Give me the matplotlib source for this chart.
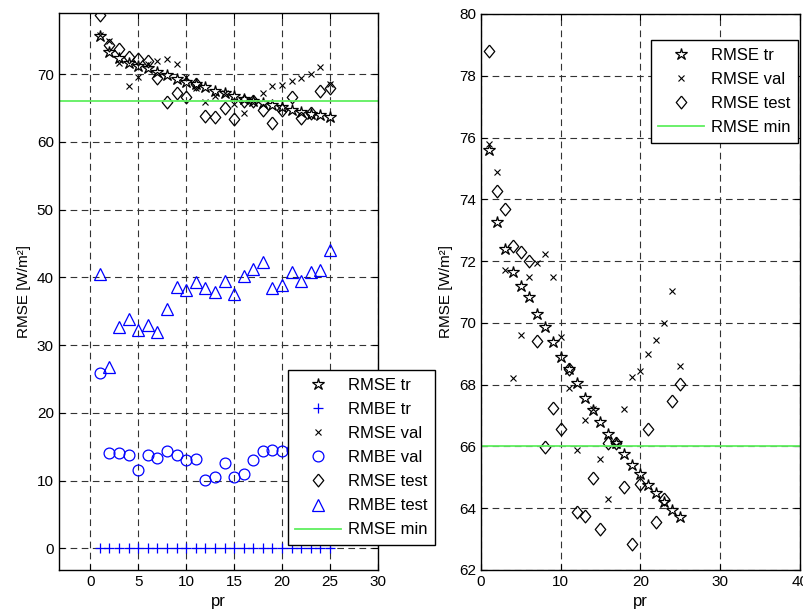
import matplotlib
matplotlib.use("Agg")
import matplotlib.pyplot as plt
import numpy as np

plt.rcParams['font.family'] = ['Liberation Sans', 'DejaVu Sans']

pr = np.arange(1, 26)

rmse_tr = [75.6, 73.25, 72.4, 71.65, 71.2, 70.85, 70.3, 69.86, 69.37, 68.9,
           68.5, 68.05, 67.56, 67.18, 66.8, 66.4, 66.1, 65.76, 65.4, 65.1,
           64.76, 64.5, 64.2, 63.95, 63.7]
rmse_val = [75.8, 74.9, 71.7, 68.23, 69.6, 71.5, 71.93, 72.23, 71.5, 69.53,
            67.9, 65.9, 66.86, 67.2, 65.6, 64.3, 66.05, 67.2, 68.26, 68.45,
            69.0, 69.44, 69.98, 71.03, 68.6]
rmse_test = [78.8, 74.28, 73.68, 72.5, 72.28, 72.0, 69.4, 65.97, 67.26, 66.57,
             68.5, 63.87, 63.76, 64.99, 63.33, 66.1, 66.1, 64.68, 62.83, 64.78,
             66.57, 63.56, 64.3, 67.48, 68.03]
rmbe_tr = [0.0] * 25
rmbe_val = [25.85, 14.14, 14.1, 13.8, 11.6, 13.8, 13.4, 14.4, 13.8, 13.0,
            13.2, 10.1, 10.6, 12.6, 10.5, 10.9, 13.0, 14.4, 14.5, 14.4,
            14.5, 14.3, 14.6, 14.4, 14.5]
rmbe_test = [40.5, 26.8, 32.7, 33.9, 32.3, 33.0, 32.0, 35.4, 38.6, 38.2,
             39.3, 38.4, 37.9, 39.5, 37.5, 40.2, 41.3, 42.3, 38.5, 38.9,
             40.8, 39.4, 40.8, 41.1, 44.0]
rmse_min = 66.0

green = '#5fef5f'
blue = '#0000ff'
fs = 11
diamond = [(0, 1), (0.82, 0), (0, -1), (-0.82, 0), (0, 1)]


def style_axes(ax):
    ax.grid(True, color='0.2', linestyle=(0, (6, 4)), linewidth=0.8)
    ax.set_axisbelow(True)
    ax.tick_params(direction='in', top=True, right=True, length=4,
                   labelsize=fs, width=0.8)
    for s in ax.spines.values():
        s.set_linewidth(1.0)


def legend_at(ax, x, y, loc):
    leg = ax.legend(loc=loc, bbox_to_anchor=(x, y), bbox_transform=fig.transFigure,
                    borderaxespad=0, fontsize=12, frameon=True, framealpha=1,
                    fancybox=False, edgecolor='k', borderpad=0.45,
                    labelspacing=0.55, handlelength=2.75, handletextpad=0.4)
    leg.get_frame().set_linewidth(1.0)
    leg.set_zorder(10)
    return leg


fig = plt.figure(figsize=(8.04, 6.16), dpi=100)

# left panel
ax1 = fig.add_axes([0.073, 0.0747, 0.397, 0.9037])
ax1.plot(pr, rmse_tr, '*', mfc='none', mec='k', ms=9, mew=0.9, label='RMSE tr')
ax1.plot(pr, rmbe_tr, '+', color=blue, ms=7.5, mew=0.9, label='RMBE tr')
ax1.plot(pr, rmse_val, 'x', color='k', ms=3.8, mew=0.8, label='RMSE val')
ax1.plot(pr, rmbe_val, 'o', mfc='none', mec=blue, ms=7.8, mew=0.9, label='RMBE val')
ax1.plot(pr, rmse_test, marker=diamond, ls='none', mfc='none', mec='k', ms=9.2,
         mew=0.9, label='RMSE test')
ax1.plot(pr, rmbe_test, '^', mfc='none', mec=blue, ms=8.3, mew=0.9, label='RMBE test')
ax1.axhline(rmse_min, color=green, lw=1.3, label='RMSE min')
ax1.set_xlim(-3.3, 30)
ax1.set_ylim(-3.2, 79)
ax1.set_xticks(range(0, 31, 5))
ax1.set_yticks(range(0, 71, 10))
ax1.set_xlabel('pr', fontsize=12)
ax1.set_ylabel('RMSE [W/m²]', fontsize=11)
style_axes(ax1)
legend_at(ax1, 288 / 804, 1 - 370 / 616, 'upper left')

# right panel
ax2 = fig.add_axes([0.598, 0.0747, 0.397, 0.9026])
ax2.plot(pr, rmse_tr, '*', mfc='none', mec='k', ms=9, mew=0.9, label='RMSE tr')
ax2.plot(pr, rmse_val, 'x', color='k', ms=3.8, mew=0.8, label='RMSE val')
ax2.plot(pr, rmse_test, marker=diamond, ls='none', mfc='none', mec='k', ms=9.2,
         mew=0.9, label='RMSE test')
ax2.axhline(rmse_min, color=green, lw=1.3, label='RMSE min')
ax2.set_xlim(0, 40)
ax2.set_ylim(62, 80)
ax2.set_xticks(range(0, 41, 10))
ax2.set_yticks(range(62, 81, 2))
ax2.set_xlabel('pr', fontsize=12)
ax2.set_ylabel('RMSE [W/m²]', fontsize=11)
style_axes(ax2)
legend_at(ax2, 798 / 804, 1 - 40 / 616, 'upper right')

fig.savefig('out.png', dpi=100)
